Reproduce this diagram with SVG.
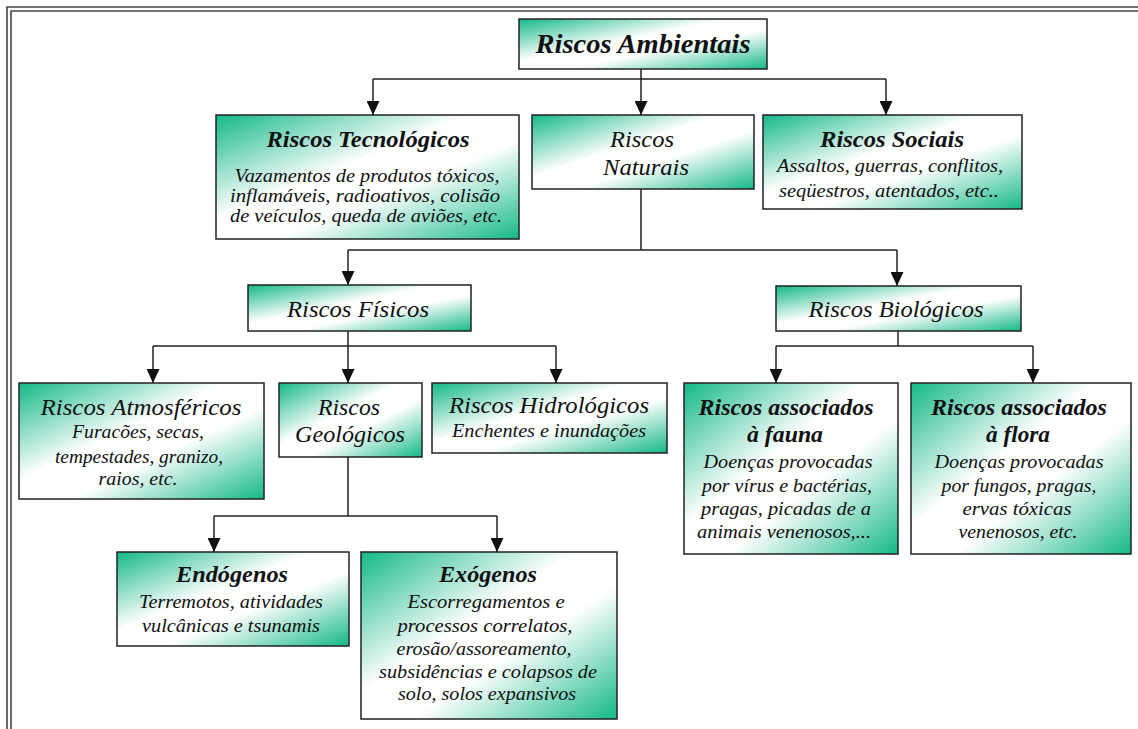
<svg xmlns="http://www.w3.org/2000/svg" width="1138" height="729" viewBox="0 0 1138 729">
<defs>
<linearGradient id="g" x1="0" y1="0" x2="1" y2="1">
<stop offset="0" stop-color="#14b888"/>
<stop offset="0.42" stop-color="#ffffff"/>
<stop offset="0.6" stop-color="#ffffff"/>
<stop offset="1" stop-color="#14b888"/>
</linearGradient>
<marker id="ah" markerUnits="userSpaceOnUse" markerWidth="14" markerHeight="13" refX="14" refY="6.5" orient="auto" viewBox="0 0 14 13">
<path d="M0,0 L14,6.5 L0,13 z" fill="#111"/>
</marker>
</defs>
<style>
.box{fill:url(#g);stroke:#222;stroke-width:1.5}
.c{fill:none;stroke:#222;stroke-width:1.5}
.a{marker-end:url(#ah)}
text{font-family:"Liberation Serif","DejaVu Serif",serif;font-style:italic;fill:#111;text-anchor:middle}
.h{font-size:24px}
.hb{font-size:24px;font-weight:bold}
.d{font-size:18px}
</style>
<rect width="1138" height="729" fill="#fff"/>
<g id="frame" fill="none" stroke="#444" stroke-width="1.6">
<path d="M7,729 V7 H1138"/>
<path d="M11,729 V11 H1138"/>
</g>
<g id="connectors">
<path class="c a" d="M641,69 V115"/>
<path class="c" d="M373,79 H886"/>
<path class="c a" d="M373,79 V115"/>
<path class="c a" d="M886,79 V115"/>
<path class="c" d="M641,189 V250 M348,250 H897"/>
<path class="c a" d="M348,250 V285"/>
<path class="c a" d="M897,250 V286"/>
<path class="c" d="M348,331 V346 M153,346 H556"/>
<path class="c a" d="M153,346 V383"/>
<path class="c a" d="M348,346 V383"/>
<path class="c a" d="M556,346 V383"/>
<path class="c" d="M898,331 V346 M776,346 H1033"/>
<path class="c a" d="M776,346 V383"/>
<path class="c a" d="M1033,346 V383"/>
<path class="c" d="M348,457 V516 M214,516 H497"/>
<path class="c a" d="M214,516 V552"/>
<path class="c a" d="M497,516 V552"/>
</g>
<g id="ambientais">
<rect class="box" x="519" y="19" width="248" height="50"/>
<text class="hb" x="643" y="53" style="font-size:28px" textLength="215" lengthAdjust="spacingAndGlyphs">Riscos Ambientais</text>
</g>
<g id="tecnologicos">
<rect class="box" x="216" y="115" width="303" height="124"/>
<text class="hb" x="368" y="147" textLength="203" lengthAdjust="spacingAndGlyphs">Riscos Tecnológicos</text>
<text class="d" x="367" y="182" textLength="265" lengthAdjust="spacingAndGlyphs">Vazamentos de produtos tóxicos,</text>
<text class="d" x="365" y="202" textLength="270" lengthAdjust="spacingAndGlyphs">inflamáveis, radioativos, colisão</text>
<text class="d" x="366" y="222" textLength="272" lengthAdjust="spacingAndGlyphs">de veículos, queda de aviões, etc.</text>
</g>
<g id="naturais">
<rect class="box" x="532" y="115" width="222" height="74"/>
<text class="h" x="642" y="147" textLength="64" lengthAdjust="spacingAndGlyphs">Riscos</text>
<text class="h" x="646" y="175" textLength="86" lengthAdjust="spacingAndGlyphs">Naturais</text>
</g>
<g id="sociais">
<rect class="box" x="763" y="115" width="259" height="94"/>
<text class="hb" x="892" y="147" textLength="144" lengthAdjust="spacingAndGlyphs">Riscos Sociais</text>
<text class="d" x="890" y="172" textLength="226" lengthAdjust="spacingAndGlyphs">Assaltos, guerras, conflitos,</text>
<text class="d" x="889" y="197" textLength="220" lengthAdjust="spacingAndGlyphs">seqüestros, atentados, etc..</text>
</g>
<g id="fisicos">
<rect class="box" x="248" y="285" width="223" height="46"/>
<text class="h" x="358" y="317" textLength="142" lengthAdjust="spacingAndGlyphs">Riscos Físicos</text>
</g>
<g id="biologicos">
<rect class="box" x="776" y="286" width="245" height="45"/>
<text class="h" x="896" y="317" textLength="175" lengthAdjust="spacingAndGlyphs">Riscos Biológicos</text>
</g>
<g id="atmosfericos">
<rect class="box" x="19" y="383" width="245" height="116"/>
<text class="h" x="141" y="415" textLength="201" lengthAdjust="spacingAndGlyphs">Riscos Atmosféricos</text>
<text class="d" x="138" y="438" textLength="132" lengthAdjust="spacingAndGlyphs">Furacões, secas,</text>
<text class="d" x="139" y="463" textLength="168" lengthAdjust="spacingAndGlyphs">tempestades, granizo,</text>
<text class="d" x="138" y="485" textLength="79" lengthAdjust="spacingAndGlyphs">raios, etc.</text>
</g>
<g id="geologicos">
<rect class="box" x="279" y="383" width="143" height="74"/>
<text class="h" x="349" y="415" textLength="62" lengthAdjust="spacingAndGlyphs">Riscos</text>
<text class="h" x="350" y="442" textLength="110" lengthAdjust="spacingAndGlyphs">Geológicos</text>
</g>
<g id="hidrologicos">
<rect class="box" x="432" y="383" width="235" height="70"/>
<text class="h" x="549" y="413" textLength="200" lengthAdjust="spacingAndGlyphs">Riscos Hidrológicos</text>
<text class="d" x="549" y="437" textLength="194" lengthAdjust="spacingAndGlyphs">Enchentes e inundações</text>
</g>
<g id="fauna">
<rect class="box" x="684" y="383" width="214" height="171"/>
<text class="hb" x="786" y="415" textLength="175" lengthAdjust="spacingAndGlyphs">Riscos associados</text>
<text class="hb" x="785" y="442" textLength="76" lengthAdjust="spacingAndGlyphs">à fauna</text>
<text class="d" x="788" y="468" textLength="169" lengthAdjust="spacingAndGlyphs">Doenças provocadas</text>
<text class="d" x="787" y="492" textLength="170" lengthAdjust="spacingAndGlyphs">por vírus e bactérias,</text>
<text class="d" x="786" y="515" textLength="170" lengthAdjust="spacingAndGlyphs">pragas, picadas de a</text>
<text class="d" x="784" y="538" textLength="174" lengthAdjust="spacingAndGlyphs">animais venenosos,...</text>
</g>
<g id="flora">
<rect class="box" x="911" y="383" width="220" height="171"/>
<text class="hb" x="1019" y="415" textLength="176" lengthAdjust="spacingAndGlyphs">Riscos associados</text>
<text class="hb" x="1018" y="442" textLength="64" lengthAdjust="spacingAndGlyphs">à flora</text>
<text class="d" x="1019" y="468" textLength="169" lengthAdjust="spacingAndGlyphs">Doenças provocadas</text>
<text class="d" x="1019" y="492" textLength="155" lengthAdjust="spacingAndGlyphs">por fungos, pragas,</text>
<text class="d" x="1017" y="515" textLength="109" lengthAdjust="spacingAndGlyphs">ervas tóxicas</text>
<text class="d" x="1018" y="538" textLength="119" lengthAdjust="spacingAndGlyphs">venenosos, etc.</text>
</g>
<g id="endogenos">
<rect class="box" x="117" y="552" width="232" height="94"/>
<text class="hb" x="232" y="582" textLength="112" lengthAdjust="spacingAndGlyphs">Endógenos</text>
<text class="d" x="231" y="608" textLength="184" lengthAdjust="spacingAndGlyphs">Terremotos, atividades</text>
<text class="d" x="231" y="632" textLength="178" lengthAdjust="spacingAndGlyphs">vulcânicas e tsunamis</text>
</g>
<g id="exogenos">
<rect class="box" x="361" y="552" width="256" height="167"/>
<text class="hb" x="488" y="582" textLength="98" lengthAdjust="spacingAndGlyphs">Exógenos</text>
<text class="d" x="486" y="608" textLength="157" lengthAdjust="spacingAndGlyphs">Escorregamentos e</text>
<text class="d" x="485" y="632" textLength="175" lengthAdjust="spacingAndGlyphs">processos correlatos,</text>
<text class="d" x="484" y="655" textLength="175" lengthAdjust="spacingAndGlyphs">erosão/assoreamento,</text>
<text class="d" x="488" y="678" textLength="218" lengthAdjust="spacingAndGlyphs">subsidências e colapsos de</text>
<text class="d" x="487" y="700" textLength="178" lengthAdjust="spacingAndGlyphs">solo, solos expansivos</text>
</g>
</svg>
